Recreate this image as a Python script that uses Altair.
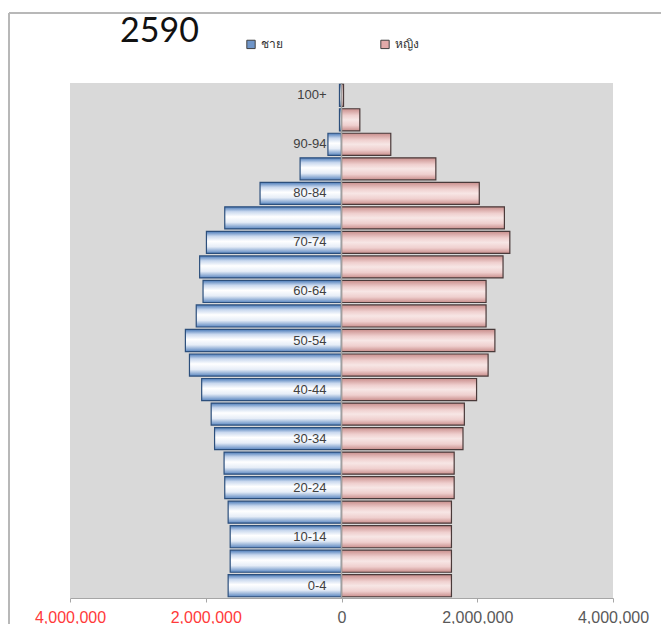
import altair as alt
import pandas as pd

ages = ["0-4", "5-9", "10-14", "15-19", "20-24", "25-29", "30-34", "35-39",
        "40-44", "45-49", "50-54", "55-59", "60-64", "65-69", "70-74",
        "75-79", "80-84", "85-89", "90-94", "95-99", "100+"]
male = [1670000, 1640000, 1640000, 1670000, 1720000, 1730000, 1870000,
        1920000, 2060000, 2240000, 2300000, 2140000, 2040000, 2090000,
        1990000, 1720000, 1200000, 610000, 200000, 30000, 30000]
female = [1620000, 1620000, 1620000, 1620000, 1660000, 1660000, 1790000,
          1810000, 1990000, 2160000, 2260000, 2130000, 2130000, 2380000,
          2480000, 2400000, 2030000, 1390000, 726000, 270000, 30000]
shown_ages = ["0-4", "10-14", "20-24", "30-34", "40-44", "50-54", "60-64",
              "70-74", "80-84", "90-94", "100+"]
sex_labels = ["ชาย", "หญิง"]
x_ticks = [-4000000, -2000000, 0, 2000000, 4000000]
title_text = "2590"

rows = []
for a, m, f in zip(ages, male, female):
    rows.append({"age": a, "sex": sex_labels[0], "value": -m})
    rows.append({"age": a, "sex": sex_labels[1], "value": f})
df = pd.DataFrame(rows)
lab_df = pd.DataFrame({"age": shown_ages, "value": [0] * len(shown_ages)})
zero_df = pd.DataFrame({"value": [0]})

age_order = list(reversed(ages))
x_scale = alt.Scale(domain=[-4000000, 4000000], nice=False, zero=True)
y_scale = alt.Scale(domain=age_order, paddingInner=0.1, paddingOuter=0.05)

x_enc = alt.X(
    "value:Q", scale=x_scale, title=None,
    axis=alt.Axis(
        values=x_ticks, grid=False,
        labelExpr="format(abs(datum.value), ',')",
        labelColor=alt.ExprRef(expr="datum.value < 0 ? '#ff3a3a' : '#595959'"),
        labelFont="Liberation Sans", labelFontSize=16,
        labelPadding=7, tickSize=4, tickColor="#a6a6a6",
        domainColor="#a6a6a6", labelFlush=False,
    ),
)
y_enc = alt.Y("age:N", scale=y_scale, sort=age_order, axis=None)

male_grad = alt.Gradient(
    gradient="linear", x1=0, x2=0, y1=0, y2=1,
    stops=[alt.GradientStop(color="#4a7ab8", offset=0),
           alt.GradientStop(color="#c9d8ee", offset=0.22),
           alt.GradientStop(color="#ffffff", offset=0.45),
           alt.GradientStop(color="#e6edf7", offset=0.7),
           alt.GradientStop(color="#5a86c0", offset=1)])
female_grad = alt.Gradient(
    gradient="linear", x1=0, x2=0, y1=0, y2=1,
    stops=[alt.GradientStop(color="#c98e8c", offset=0),
           alt.GradientStop(color="#efcfce", offset=0.3),
           alt.GradientStop(color="#f7e6e5", offset=0.5),
           alt.GradientStop(color="#efcfce", offset=0.75),
           alt.GradientStop(color="#c98e8c", offset=1)])

male_bars = alt.Chart(df).transform_filter(
    alt.datum.sex == sex_labels[0]
).mark_bar(color=male_grad, stroke="#2c4f7c", strokeWidth=1.2).encode(x=x_enc, y=y_enc)

female_bars = alt.Chart(df).transform_filter(
    alt.datum.sex == sex_labels[1]
).mark_bar(color=female_grad, stroke="#4a3a3a", strokeWidth=1.2).encode(x=x_enc, y=y_enc)

zero_rule = alt.Chart(zero_df).mark_rule(color="#a0a0a0", strokeWidth=1.5).encode(x=x_enc)

labels = alt.Chart(lab_df).mark_text(
    align="right", baseline="middle", dx=-15, fontSize=13,
    font="Liberation Sans", color="#404040"
).encode(x=x_enc, y=y_enc, text="age:N")

legend_layer = alt.Chart(df).mark_square(opacity=0, size=1).encode(
    x=x_enc, y=y_enc,
    color=alt.Color(
        "sex:N",
        scale=alt.Scale(domain=sex_labels, range=["#6f95c8", "#e2aaa9"]),
        legend=alt.Legend(
            title=None, orient="none", legendX=175, legendY=-45,
            direction="horizontal", columns=2, columnPadding=95,
            labelFontSize=12, labelColor="#333333",
            symbolType="square", symbolSize=70, symbolOpacity=1,
            symbolStrokeColor="#404040", symbolStrokeWidth=1,
        ),
    ),
)

# outer frame of the chart (decoration)
frame_top = alt.Chart(zero_df).mark_rule(color="#b8b8b8", strokeWidth=2).encode(
    x=alt.value(-61), x2=alt.value(620), y=alt.value(-70))
frame_left = alt.Chart(zero_df).mark_rule(color="#b8b8b8", strokeWidth=2).encode(
    x=alt.value(-61), x2=alt.value(-61), y=alt.value(-70), y2=alt.value(560))

chart = alt.layer(frame_top, frame_left, male_bars, female_bars, zero_rule,
                  labels, legend_layer).properties(
    width=543, height=515,
    autosize=alt.AutoSizeParams(type="none"),
    padding={"left": 62, "top": 75, "right": 48, "bottom": 26},
    title=alt.TitleParams(title_text, anchor="start", orient="top", frame="group",
                          baseline="alphabetic", fontSize=34, font="Lato",
                          fontWeight="normal", color="#111111", dx=50, offset=0, dy=64),
    background="white",
).configure_view(fill="#d9d9d9", strokeWidth=0)

chart.save("out.html", embed_options={"renderer": "svg", "actions": False})
